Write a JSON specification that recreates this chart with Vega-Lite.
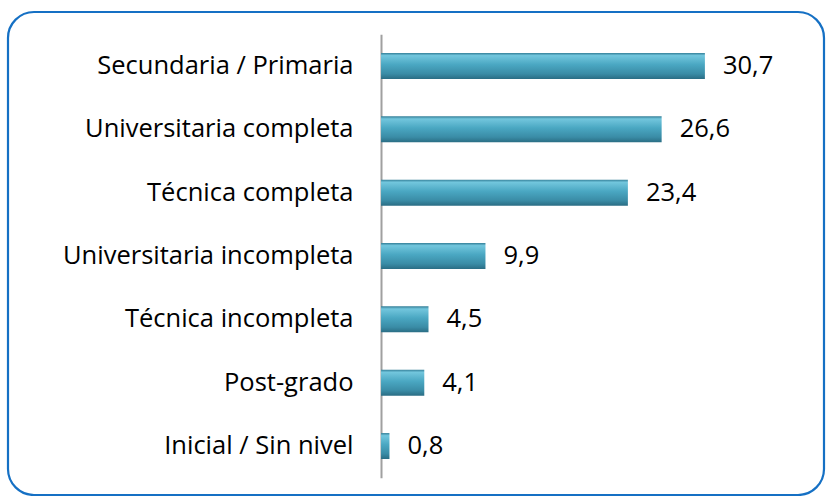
{
  "$schema": "https://vega.github.io/schema/vega-lite/v6.json",
  "width": 816,
  "height": 483,
  "autosize": {"type": "none"},
  "padding": {"left": 8, "top": 12, "right": 2, "bottom": 1},
  "background": "white",
  "config": {
    "view": {"stroke": "#1570c4", "strokeWidth": 2.2, "cornerRadius": 26},
    "locale": {"number": {"decimal": ",", "thousands": ".", "grouping": [3], "currency": ["", ""]}},
    "font": "Open Sans"
  },
  "data": {
    "values": [
      {"nivel": "Secundaria / Primaria", "pct": 30.7},
      {"nivel": "Universitaria completa", "pct": 26.6},
      {"nivel": "Técnica completa", "pct": 23.4},
      {"nivel": "Universitaria incompleta", "pct": 9.9},
      {"nivel": "Técnica incompleta", "pct": 4.5},
      {"nivel": "Post-grado", "pct": 4.1},
      {"nivel": "Inicial / Sin nivel", "pct": 0.8}
    ]
  },
  "encoding": {
    "y": {
      "field": "nivel", "type": "nominal", "sort": null,
      "scale": {"range": [22.3, 465.7], "paddingInner": 0.59, "paddingOuter": 0.295},
      "axis": {"title": null, "offset": -373, "ticks": false, "grid": false, "domainColor": "#a0a0a0", "domainWidth": 2, "labelFontSize": 25.5, "labelColor": "#000000", "labelPadding": 28, "labelFont": "Open Sans", "labelLimit": 500}
    },
    "x": {
      "field": "pct", "type": "quantitative",
      "scale": {"domain": [-35.36, 41.99], "nice": false, "zero": false},
      "axis": null
    }
  },
  "layer": [
    {
      "mark": {"type": "bar", "color": {"gradient": "linear", "x1": 0, "y1": 0, "x2": 0, "y2": 1, "stops": [
        {"offset": 0, "color": "#347f98"},
        {"offset": 0.1, "color": "#72c6dd"},
        {"offset": 0.45, "color": "#4aa7c2"},
        {"offset": 0.8, "color": "#3a8ca6"},
        {"offset": 1, "color": "#2a6d84"}
      ]}},
      "encoding": {"x2": {"datum": 0}}
    },
    {
      "mark": {"type": "text", "align": "left", "baseline": "middle", "dx": 18, "fontSize": 25.5, "font": "Open Sans", "color": "#000000"},
      "encoding": {"text": {"field": "pct", "type": "quantitative", "format": ".1f"}}
    }
  ]
}
